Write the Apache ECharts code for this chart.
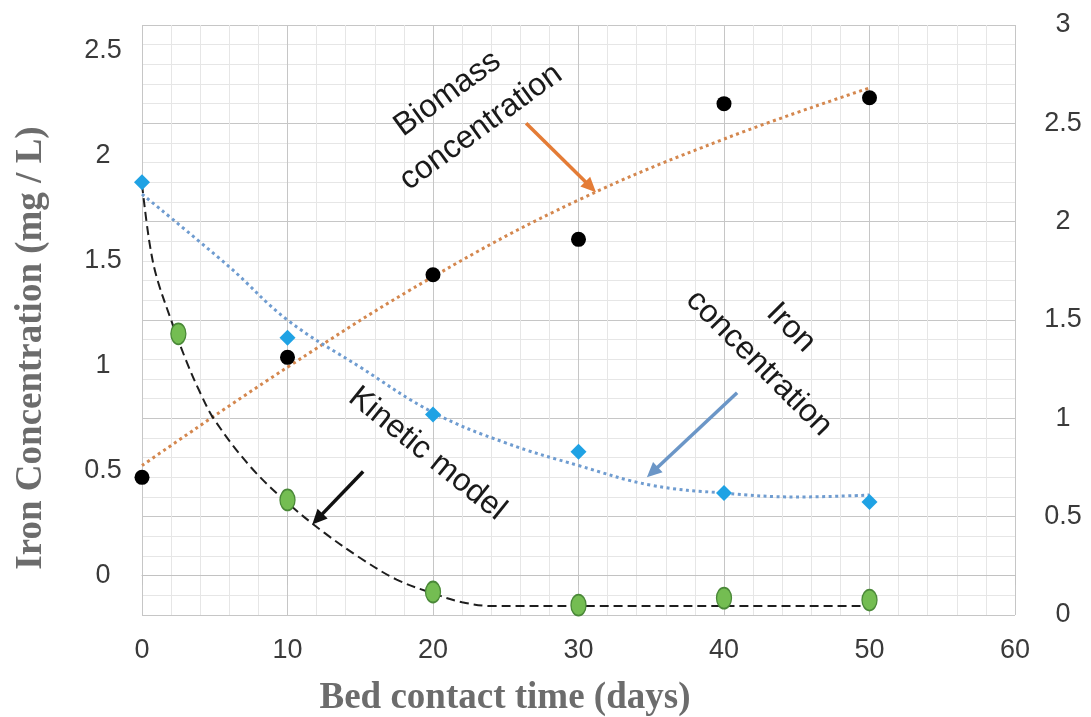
<!DOCTYPE html>
<html>
<head>
<meta charset="utf-8">
<script src="https://cdn.jsdelivr.net/npm/echarts@6/dist/echarts.min.js"></script>
<style>
  html, body { margin: 0; padding: 0; background: #ffffff; }
  #chart { width: 1091px; height: 717px; }
</style>
</head>
<body>
<div id="chart"></div>
<script>
// Sampling days and measured concentrations
const days = [0, 10, 20, 30, 40, 50];
const biomass = [0.70, 1.31, 1.73, 1.91, 2.60, 2.63];
const iron = [2.20, 1.41, 1.02, 0.83, 0.62, 0.575];

// Points fitted by the kinetic model
const modelDays = [2.5, 10, 20, 30, 40, 50];
const modelPoints = [1.43, 0.585, 0.117, 0.05, 0.086, 0.076];

// Kinetic model curve
const kineticDays = [0, 0.5, 1, 2, 3, 4, 5, 7.5, 10, 12.5, 15, 17.5, 20, 22, 24, 30, 40, 50];
const kineticValues = [2.19, 1.90, 1.72, 1.50, 1.30, 1.13, 0.99, 0.75, 0.57, 0.42, 0.29, 0.18, 0.11, 0.065, 0.046, 0.046, 0.046, 0.046];

// Trend lines
const biomassTrendDays = [0, 10, 20, 30, 40, 50];
const biomassTrend = [0.76, 1.26, 1.72, 2.11, 2.42, 2.68];
const ironTrendDays = [0, 6, 10, 15, 20, 25, 30, 35, 40, 45, 50];
const ironTrend = [2.14, 1.77, 1.50, 1.26, 1.03, 0.875, 0.76, 0.66, 0.62, 0.60, 0.61];

// Axis tick labels
const leftTicks = [0, 0.5, 1, 1.5, 2, 2.5];

const pairs = (xs, ys) => xs.map((x, i) => [x, ys[i]]);

const chart = echarts.init(document.getElementById('chart'));

const tickFont = { fontFamily: 'Liberation Sans', fontSize: 27, color: '#3a3a3a' };
const ellipse = 'path://M50,0A50,50,0,1,1,50,100A50,50,0,1,1,50,0Z';

chart.setOption({
  animation: false,
  backgroundColor: '#ffffff',
  grid: { left: 142, right: 76, top: 25, bottom: 102 },
  xAxis: {
    type: 'value', min: 0, max: 60, interval: 10,
    axisLine: { show: true, lineStyle: { color: '#c2c2c2', width: 1 } },
    axisTick: { show: true, length: 10, lineStyle: { color: '#c2c2c2' } },
    axisLabel: Object.assign({ margin: 22 }, tickFont),
    splitLine: { show: true, lineStyle: { color: '#c6c6c6', width: 1 } },
    minorTick: { show: false, splitNumber: 5 },
    minorSplitLine: { show: true, lineStyle: { color: '#e6e6e6', width: 1 } }
  },
  yAxis: [
    {
      type: 'value', position: 'left', min: -0.19, max: 2.62,
      axisLine: { show: false },
      axisTick: { show: false },
      splitLine: { show: false },
      axisLabel: Object.assign({ margin: 39, align: 'center', customValues: leftTicks }, tickFont)
    },
    {
      type: 'value', position: 'right', min: 0, max: 3, interval: 0.5,
      axisLine: { show: false },
      axisTick: { show: false },
      axisLabel: Object.assign({ margin: 48, align: 'center' }, tickFont),
      splitLine: { show: true, lineStyle: { color: '#c6c6c6', width: 1 } },
      minorTick: { show: false, splitNumber: 5 },
      minorSplitLine: { show: true, lineStyle: { color: '#e6e6e6', width: 1 } }
    }
  ],
  series: [
    {
      name: 'Biomass trend', type: 'line', yAxisIndex: 1, smooth: 0.4, symbol: 'none', z: 2,
      data: pairs(biomassTrendDays, biomassTrend),
      lineStyle: { color: '#d4874e', width: 3, type: [3, 3.5] }
    },
    {
      name: 'Iron trend', type: 'line', yAxisIndex: 1, smooth: 0.4, symbol: 'none', z: 2,
      data: pairs(ironTrendDays, ironTrend),
      lineStyle: { color: '#6f9cd0', width: 3, type: [3, 3.5] }
    },
    {
      name: 'Kinetic model', type: 'line', yAxisIndex: 1, smooth: 0.35, symbol: 'none', z: 3,
      data: pairs(kineticDays, kineticValues),
      lineStyle: { color: '#1e1e1e', width: 2, type: [9, 5] }
    },
    {
      name: 'Model points', type: 'scatter', yAxisIndex: 1, z: 5,
      symbol: ellipse, symbolSize: [15, 21],
      data: pairs(modelDays, modelPoints),
      itemStyle: { color: '#74bd52', borderColor: '#4a8838', borderWidth: 1.5, opacity: 1 }
    },
    {
      name: 'Iron concentration', type: 'scatter', yAxisIndex: 1, z: 5,
      symbol: 'diamond', symbolSize: 16,
      data: pairs(days, iron),
      itemStyle: { color: '#1fa2e4', opacity: 1 }
    },
    {
      name: 'Biomass concentration', type: 'scatter', yAxisIndex: 1, z: 5,
      symbol: 'circle', symbolSize: 15,
      data: pairs(days, biomass),
      itemStyle: { color: '#000000', opacity: 1 }
    }
  ]
});

// Callout arrows and labels, anchored in data units (days, right axis)
const arrows = [
  { from: [26.4, 2.50], to: [31.2, 2.15], color: '#e47c36' },
  { from: [40.9, 1.13], to: [34.7, 0.70], color: '#6b96c7' },
  { from: [15.2, 0.73], to: [11.7, 0.46], color: '#111111' }
];
const callouts = [
  { text: 'Biomass', at: [21.0, 2.65], angle: 36 },
  { text: 'concentration', at: [23.3, 2.48], angle: 36 },
  { text: 'Iron', at: [44.6, 1.46], angle: -45 },
  { text: 'concentration', at: [42.4, 1.28], angle: -45 },
  { text: 'Kinetic model', at: [19.6, 0.82], angle: -39 }
];

const toPx = p => chart.convertToPixel({ seriesIndex: 0 }, p);
const graphics = [];

arrows.forEach(a => {
  const p0 = toPx(a.from), p1 = toPx(a.to);
  const dx = p1[0] - p0[0], dy = p1[1] - p0[1];
  const len = Math.sqrt(dx * dx + dy * dy);
  const ux = dx / len, uy = dy / len;
  const headLen = 15, headW = 7;
  const bx = p1[0] - ux * headLen, by = p1[1] - uy * headLen;
  graphics.push({
    type: 'line', z: 20,
    shape: { x1: p0[0], y1: p0[1], x2: bx + ux * 2, y2: by + uy * 2 },
    style: { stroke: a.color, lineWidth: 3.5 }
  });
  graphics.push({
    type: 'polygon', z: 20,
    shape: { points: [[p1[0], p1[1]], [bx - uy * headW, by + ux * headW], [bx + uy * headW, by - ux * headW]] },
    style: { fill: a.color }
  });
});

callouts.forEach(c => {
  const p = toPx(c.at);
  graphics.push({
    type: 'text', z: 20, x: p[0], y: p[1], rotation: c.angle * Math.PI / 180,
    style: {
      text: c.text, font: '32px "Liberation Sans"', fill: '#1a1a1a',
      align: 'center', verticalAlign: 'middle'
    }
  });
});

// Axis titles
graphics.push({
  type: 'text', z: 20, x: 505, y: 698,
  style: {
    text: 'Bed contact time (days)', font: 'bold 37px "Liberation Serif"', fill: '#6c6c6c',
    align: 'center', verticalAlign: 'middle'
  }
});
graphics.push({
  type: 'text', z: 20, x: 31, y: 348, rotation: Math.PI / 2,
  style: {
    text: 'Iron Concentration (mg / L)', font: 'bold 37px "Liberation Serif"', fill: '#6c6c6c',
    align: 'center', verticalAlign: 'middle'
  }
});

chart.setOption({ graphic: graphics });
</script>
</body>
</html>
